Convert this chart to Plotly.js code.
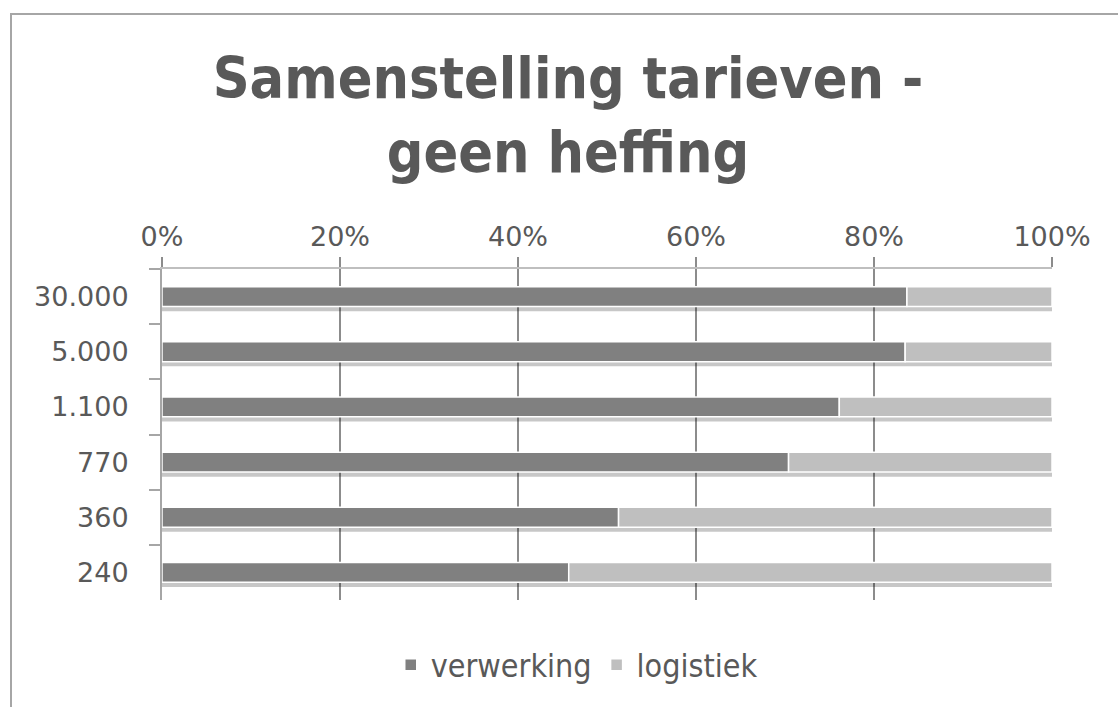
<!DOCTYPE html>
<html>
<head>
<meta charset="utf-8">
<script src="https://cdn.plot.ly/plotly-3.0.1.min.js"></script>
<style>
  body { margin: 0; background: #fff; }
  #frame { position: absolute; left: 10px; top: 13px; width: 1200px; height: 800px;
           border: 2px solid #a6a6a6; box-sizing: border-box; pointer-events: none; }
  #plotDiv { width: 1118px; height: 707px; }
</style>
</head>
<body>
<div id="plotDiv"></div>
<div id="frame"></div>
<script>
// categories top to bottom
var categories = ['30.000', '5.000', '1.100', '770', '360', '240'];
// share of tariff, percent
var verwerking = [83.7, 83.5, 76.1, 70.4, 51.3, 45.7];
var logistiek = [16.3, 16.5, 23.9, 29.6, 48.7, 54.3];
var tickVals = [0, 20, 40, 60, 80, 100];
var tickText = ['0%', '20%', '40%', '60%', '80%', '100%'];

var total = verwerking.map(function (v, i) { return v + logistiek[i]; });

var fontTicks = 'DejaVu Sans, Verdana, sans-serif';
var fontNarrow = 'DejaVu Sans Condensed, DejaVu Sans, sans-serif';

// soft shadow under every bar
var shadow = {
  type: 'bar', orientation: 'h',
  y: categories, x: total, base: 0,
  width: 0.09, offset: 0.175,
  marker: { color: 'rgba(0,0,0,0.22)', line: { width: 0 } },
  showlegend: false, hoverinfo: 'skip'
};

var trace1 = {
  type: 'bar', orientation: 'h',
  name: 'verwerking',
  y: categories, x: verwerking, base: 0,
  width: 0.36,
  marker: { color: '#808080', line: { color: '#ffffff', width: 1.5 } }
};

var trace2 = {
  type: 'bar', orientation: 'h',
  name: 'logistiek',
  y: categories, x: logistiek, base: verwerking,
  width: 0.36,
  marker: { color: '#bfbfbf', line: { color: '#ffffff', width: 1.5 } }
};

var layout = {
  width: 1118, height: 707,
  paper_bgcolor: '#ffffff', plot_bgcolor: '#ffffff',
  barmode: 'overlay',
  margin: { l: 162, r: 66, t: 269, b: 107, pad: 0 },
  title: {
    text: 'Samenstelling tarieven -<br>geen heffing',
    font: { family: fontNarrow, size: 57, color: '#595959', weight: 'bold' },
    x: 0.508, xref: 'container', xanchor: 'center',
    y: 0.862, yref: 'container', yanchor: 'top'
  },
  xaxis: {
    side: 'top',
    range: [0, 100],
    tickvals: tickVals, ticktext: tickText,
    ticks: 'outside', ticklen: 10, tickwidth: 2, tickcolor: '#8c8c8c',
    showgrid: true, gridcolor: '#8c8c8c', gridwidth: 2,
    showline: true, linecolor: '#bfbfbf', linewidth: 2,
    zeroline: false,
    tickfont: { family: fontTicks, size: 27, color: '#595959' },
    fixedrange: true
  },
  yaxis: {
    type: 'category',
    autorange: 'reversed',
    ticks: 'outside', tickson: 'boundaries', ticklen: 11, tickwidth: 2, tickcolor: '#a6a6a6',
    showline: true, linecolor: '#a6a6a6', linewidth: 2,
    showgrid: false, zeroline: false,
    ticklabelstandoff: 26,
    tickfont: { family: fontTicks, size: 27, color: '#595959' },
    fixedrange: true
  },
  legend: {
    orientation: 'h',
    x: 0.466, xanchor: 'center',
    y: -0.196, yanchor: 'middle',
    font: { family: fontNarrow, size: 32, color: '#595959' },
    itemwidth: 30,
    traceorder: 'normal'
  },
  showlegend: true
};

Plotly.newPlot('plotDiv', [shadow, trace1, trace2], layout, { displayModeBar: false, staticPlot: true });
</script>
</body>
</html>
